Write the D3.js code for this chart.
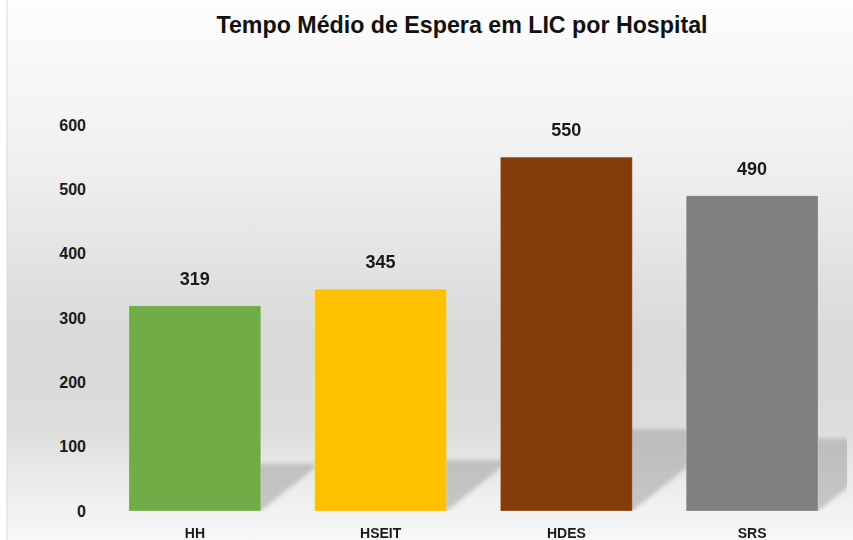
<!DOCTYPE html>
<html>
<head>
<meta charset="utf-8">
<script src="https://cdn.jsdelivr.net/npm/d3@7"></script>
<style>
    body { margin: 0; background: #fff; }
    svg { display: block; font-family: "Liberation Sans", Arial, sans-serif; }
</style>
</head>
<body>
<div id="chart"></div>
<script>
// data
const hospitals = ["HH", "HSEIT", "HDES", "SRS"];
const waitTimes = [319, 345, 550, 490];
const barColors = ["#70ad47", "#ffc000", "#843c0c", "#7f7f7f"];
const yTicks = [0, 100, 200, 300, 400, 500, 600];
const chartTitle = "Tempo Médio de Espera em LIC por Hospital";

const width = 853, height = 540;
const base = 511;

const svg = d3.select('#chart').append('svg')
    .attr('width', width)
    .attr('height', height);

const defs = svg.append('defs');

// background gradient of the chart area
const bg = defs.append('linearGradient')
    .attr('id', 'bg').attr('x1', 0).attr('y1', 0).attr('x2', 0).attr('y2', 1);
[[0, '#fdfdfd'], [0.3, '#f0f0f0'], [0.62, '#d9d9d9'], [0.78, '#dcdcdc'], [0.92, '#efefef'], [1, '#f8f8f8']]
    .forEach(s => bg.append('stop').attr('offset', s[0]).attr('stop-color', s[1]));

defs.append('filter').attr('id', 'blur')
    .attr('x', '-20%').attr('y', '-20%').attr('width', '140%').attr('height', '140%')
    .append('feGaussianBlur').attr('stdDeviation', 2);

defs.append('clipPath').attr('id', 'plotClip')
    .append('rect').attr('x', 100).attr('y', 100).attr('width', 747).attr('height', base - 100);

svg.append('rect')
    .attr('x', 7).attr('y', -1)
    .attr('width', width).attr('height', height + 2)
    .attr('fill', 'url(#bg)')
    .attr('stroke', '#d9d9d9');

const x = d3.scaleBand()
    .domain(hospitals)
    .range([102, 845])
    .paddingInner(0.29)
    .paddingOuter(0.145);

const y = d3.scaleLinear()
    .domain([0, 600])
    .range([base, 125]);

const data = hospitals.map((h, i) => ({ name: h, value: waitTimes[i], color: barColors[i] }));

// perspective shadows behind the bars
svg.append('g')
    .attr('clip-path', 'url(#plotClip)')
    .append('g')
    .attr('filter', 'url(#blur)')
    .selectAll('polygon')
    .data(data)
    .join('polygon')
    .attr('points', d => {
        const x0 = x(d.name), x1 = x0 + x.bandwidth();
        const h = (base - y(d.value)) * 0.23;
        const dx = h * 1.25;
        return [[x0, base], [x1, base], [x1 + dx, base - h], [x0 + dx, base - h]].join(' ');
    })
    .attr('fill', '#999')
    .attr('opacity', 0.5);

// bars
svg.append('g')
    .selectAll('rect')
    .data(data)
    .join('rect')
    .attr('x', d => x(d.name))
    .attr('y', d => y(d.value))
    .attr('width', x.bandwidth())
    .attr('height', d => base - y(d.value))
    .attr('fill', d => d.color)
    .attr('stroke', 'rgba(255,255,255,0.25)')
    .attr('stroke-width', 1);

// value labels
svg.append('g')
    .selectAll('text')
    .data(data)
    .join('text')
    .attr('x', d => x(d.name) + x.bandwidth() / 2)
    .attr('y', d => y(d.value) - 21)
    .attr('text-anchor', 'middle')
    .style('font-size', '18px')
    .style('font-weight', 'bold')
    .style('fill', '#1a1a1a')
    .text(d => d.value);

// y axis (labels only)
const yAxis = svg.append('g')
    .attr('transform', 'translate(86,0)')
    .call(d3.axisLeft(y).tickValues(yTicks).tickSize(0).tickPadding(0));
yAxis.select('.domain').remove();
yAxis.selectAll('text')
    .style('font-family', '"Liberation Sans", Arial, sans-serif')
    .style('font-size', '16px')
    .style('font-weight', 'bold')
    .style('fill', '#1a1a1a');

// x axis (labels only)
const xAxis = svg.append('g')
    .attr('transform', `translate(0,${base})`)
    .call(d3.axisBottom(x).tickSize(0).tickPadding(17));
xAxis.select('.domain').remove();
xAxis.selectAll('text')
    .style('font-family', '"Liberation Sans", Arial, sans-serif')
    .style('font-size', '14px')
    .style('font-weight', 'bold')
    .style('fill', '#1a1a1a');

// title
svg.append('text')
    .attr('x', 462)
    .attr('y', 33)
    .attr('text-anchor', 'middle')
    .attr('textLength', 491)
    .attr('lengthAdjust', 'spacingAndGlyphs')
    .style('font-size', '24px')
    .style('font-weight', 'bold')
    .style('fill', '#111')
    .text(chartTitle);
</script>
</body>
</html>
